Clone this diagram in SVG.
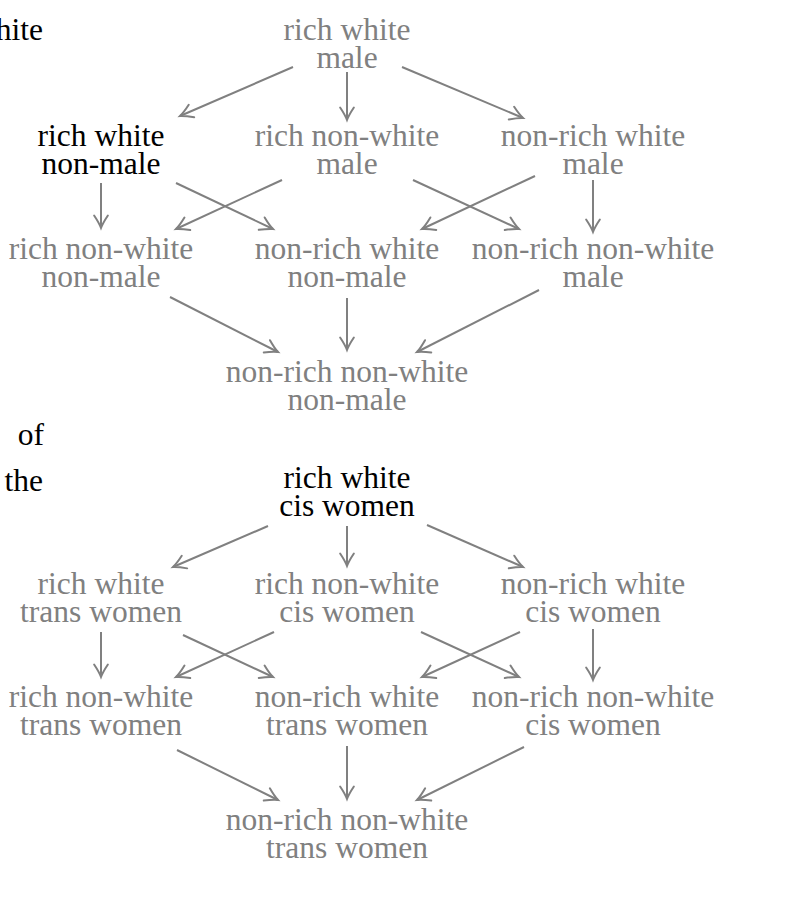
<svg xmlns="http://www.w3.org/2000/svg" width="803" height="904" viewBox="0 0 803 904" font-family="'Liberation Serif', 'Times New Roman', Times, serif" font-size="31.5">
<defs>
<marker id="ah" markerUnits="userSpaceOnUse" markerWidth="20" markerHeight="20" viewBox="-12 -8 14 16" refX="0" refY="0" orient="auto">
<path d="M -10 -5.5 Q -4 -1.5 0 0 Q -4 1.5 -10 5.5" fill="none" stroke="#808080" stroke-width="1.6" stroke-linecap="round"/>
</marker>
<style>
text{text-anchor:middle;fill:#808080}
.k{fill:#000}
.m{text-anchor:end;fill:#000}
.c line{stroke:#808080;stroke-width:2;marker-end:url(#ah)}
</style>
</defs>
<rect width="803" height="904" fill="#fff"/>
<g id="margin">
<text class="m" x="43" y="40">hite</text>
<text class="m" x="44" y="445">of</text>
<text class="m" x="43" y="491">the</text>
</g>
<g id="top-diagram">
<g id="n-rwm"><text x="347" y="40">rich white</text><text x="347" y="68">male</text></g>
<g id="n-rwn"><text class="k" x="101" y="146">rich white</text><text class="k" x="101" y="174">non-male</text></g>
<g id="n-rnm"><text x="347" y="146">rich non-white</text><text x="347" y="174">male</text></g>
<g id="n-nwm"><text x="593" y="146">non-rich white</text><text x="593" y="174">male</text></g>
<g id="n-rnn"><text x="101" y="259">rich non-white</text><text x="101" y="287">non-male</text></g>
<g id="n-nwn"><text x="347" y="259">non-rich white</text><text x="347" y="287">non-male</text></g>
<g id="n-nnm"><text x="593" y="259">non-rich non-white</text><text x="593" y="287">male</text></g>
<g id="n-nnn"><text x="347" y="382">non-rich non-white</text><text x="347" y="410">non-male</text></g>
<g id="top-connectors" class="c">
<line x1="293" y1="67" x2="180" y2="116"/>
<line x1="347" y1="72" x2="347" y2="120"/>
<line x1="402" y1="67" x2="523" y2="118"/>
<line x1="101" y1="183" x2="101" y2="228"/>
<line x1="176" y1="183" x2="273" y2="229"/>
<line x1="282" y1="180" x2="176" y2="229"/>
<line x1="413" y1="180" x2="519" y2="229"/>
<line x1="535" y1="176" x2="422" y2="229"/>
<line x1="593" y1="180" x2="593" y2="232"/>
<line x1="170" y1="297" x2="278" y2="352"/>
<line x1="347" y1="298" x2="347" y2="350"/>
<line x1="539" y1="290" x2="417" y2="352"/>
</g>
</g>
<g id="bottom-diagram">
<g id="b-rwc"><text class="k" x="347" y="488">rich white</text><text class="k" x="347" y="516">cis women</text></g>
<g id="b-rwt"><text x="101" y="594">rich white</text><text x="101" y="622">trans women</text></g>
<g id="b-rnc"><text x="347" y="594">rich non-white</text><text x="347" y="622">cis women</text></g>
<g id="b-nwc"><text x="593" y="594">non-rich white</text><text x="593" y="622">cis women</text></g>
<g id="b-rnt"><text x="101" y="707">rich non-white</text><text x="101" y="735">trans women</text></g>
<g id="b-nwt"><text x="347" y="707">non-rich white</text><text x="347" y="735">trans women</text></g>
<g id="b-nnc"><text x="593" y="707">non-rich non-white</text><text x="593" y="735">cis women</text></g>
<g id="b-nnt"><text x="347" y="830">non-rich non-white</text><text x="347" y="858">trans women</text></g>
<g id="bottom-connectors" class="c">
<line x1="268" y1="526" x2="173" y2="567"/>
<line x1="347" y1="526" x2="347" y2="566"/>
<line x1="427" y1="525" x2="523" y2="567"/>
<line x1="101" y1="632" x2="101" y2="677"/>
<line x1="183" y1="635" x2="273" y2="677"/>
<line x1="274" y1="632" x2="176" y2="677"/>
<line x1="421" y1="632" x2="519" y2="677"/>
<line x1="520" y1="632" x2="422" y2="677"/>
<line x1="593" y1="629" x2="593" y2="680"/>
<line x1="177" y1="750" x2="278" y2="800"/>
<line x1="347" y1="746" x2="347" y2="799"/>
<line x1="524" y1="747" x2="417" y2="800"/>
</g>
</g>
</svg>
